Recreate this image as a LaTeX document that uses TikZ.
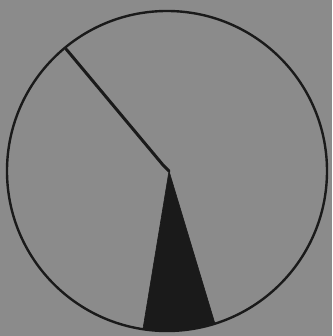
\documentclass[tikz,border=0pt]{standalone}
\usetikzlibrary{calc}
\definecolor{dialGrey}{RGB}{139,139,139}
\definecolor{dialInk}{RGB}{26,26,26}
\tikzset{
  % dial face and its hand
  rim/.style      = {dialInk, line width=2.4pt},
  hand/.style     = {dialInk, line width=3pt, line join=round, line cap=round},
  sector/.style   = {fill=dialInk, draw=dialInk, line width=0.6pt, line join=round},
}

\begin{document}
\begin{tikzpicture}[x=1pt, y=1pt]
  % page margins and background
  \fill[dialGrey] (-167,-165) rectangle (165,171);
  \useasboundingbox (-167,-165) rectangle (165,171);
  \coordinate (hub) at (0,0);
  \coordinate (tip) at (2,0);
  \coordinate (knee) at (-4,6);
  \coordinate (end) at (129.6:158pt);
  % filled sector at the bottom
  \begin{scope}
    \clip (hub) circle[radius=160pt];
    \fill[sector] (tip) -- (261.3:170pt) -- (287.4:170pt) -- cycle;
  \end{scope}
  % hand
  \draw[hand] (end) -- (knee) -- (tip);
  % rim
  \draw[rim] (hub) circle[radius=160pt];
\end{tikzpicture}
\end{document}
